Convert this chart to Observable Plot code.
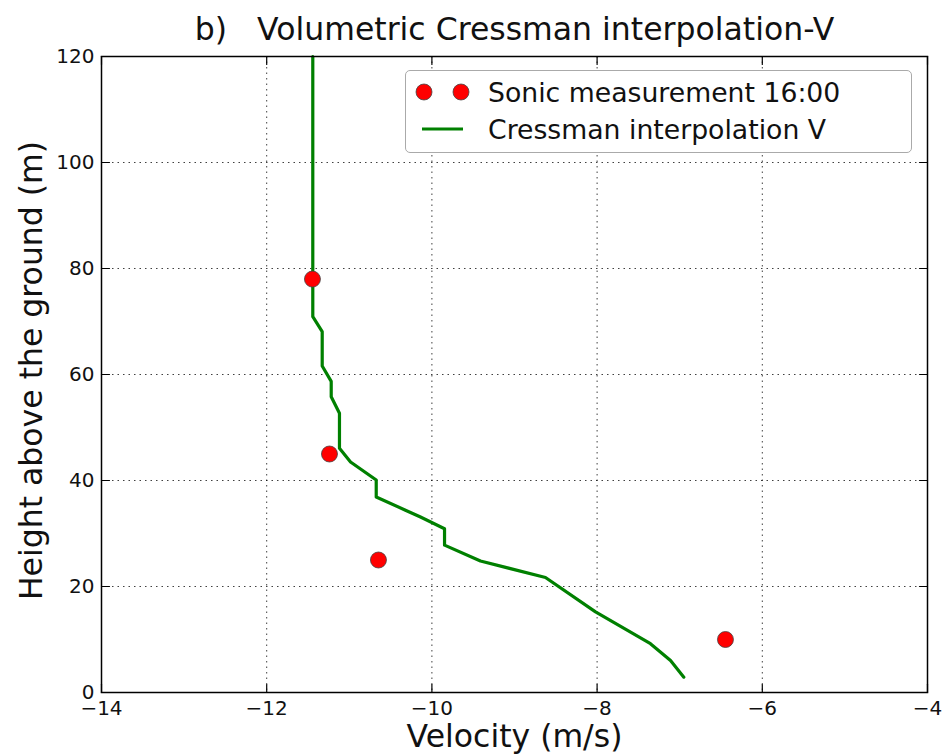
<!DOCTYPE html>
<html>
<head>
<meta charset="utf-8">
<script src="https://cdn.jsdelivr.net/npm/d3@7"></script>
<script src="https://cdn.jsdelivr.net/npm/@observablehq/plot@0.6"></script>
<style>
  body { margin: 0; background: #fff; font-family: "DejaVu Sans", sans-serif; }
  #wrap { position: relative; width: 942px; height: 756px; }
  #legend { position: absolute; left: 405px; top: 70px; width: 505px; height: 81px;
    border: 1.5px solid #aaa; border-radius: 5px; background: #fff; box-sizing: content-box; }
  .row { position: absolute; left: 0; height: 36px; display: flex; align-items: center; }
  .row span { position: absolute; left: 82px; font-size: 26.7px; color: #111; white-space: nowrap; }
</style>
</head>
<body>
<div id="wrap">
  <div id="chart"></div>
  <div id="legend">
    <div class="row" style="top:3px">
      <svg width="80" height="36"><circle cx="18" cy="18" r="8" fill="red" stroke="#444" stroke-width="0.8"/><circle cx="55" cy="18" r="8" fill="red" stroke="#444" stroke-width="0.8"/></svg>
      <span>Sonic measurement 16:00</span>
    </div>
    <div class="row" style="top:40px">
      <svg width="80" height="36"><line x1="16" x2="57" y1="18" y2="18" stroke="#008000" stroke-width="3"/></svg>
      <span>Cressman interpolation V</span>
    </div>
  </div>
</div>
<script>
// Sonic measurements
const sonicV = [-11.446, -11.24, -10.647, -6.446];
const sonicH = [78, 45, 25, 10];

// Cressman interpolated profile
const cressV = [-11.442, -11.442, -11.328, -11.328, -11.219, -11.219, -11.119, -11.119, -10.985, -10.674, -10.674, -10.32, -10.138, -9.847, -9.847, -9.412, -8.625, -8.019, -7.354, -7.111, -6.95];
const cressH = [120, 70.9, 68.1, 61.6, 58.7, 55.8, 52.7, 46.1, 43.5, 40.1, 36.9, 34.4, 33.1, 30.9, 27.8, 24.8, 21.7, 15.2, 9.2, 6.05, 2.9];

const xTicks = [-14, -12, -10, -8, -6, -4];
const yTicks = [0, 20, 40, 60, 80, 100, 120];

const titleText = "b)   Volumetric Cressman interpolation-V";
const xLabel = "Velocity (m/s)";
const yLabel = "Height above the ground (m)";

const sonic = sonicV.map((v, i) => ({v, h: sonicH[i]}));
const cress = cressV.map((v, i) => ({v, h: cressH[i]}));

const fmt = d => d < 0 ? "\u2212" + Math.abs(d) : String(d);

const tickShape = { draw(context, l) { context.moveTo(0, 0); context.lineTo(0, -l); } };
const tickOpts = { length: 8, anchor: "start", shape: tickShape, stroke: "#000", strokeWidth: 1.2 };

const chart = Plot.plot({
  width: 942,
  height: 756,
  marginTop: 56,
  marginLeft: 101,
  marginRight: 15,
  marginBottom: 64,
  style: { fontFamily: "DejaVu Sans, sans-serif", background: "white", color: "#111" },
  x: { domain: [-14, -4] },
  y: { domain: [0, 120] },
  marks: [
    Plot.gridX(xTicks, { stroke: "#000", strokeOpacity: 0.75, strokeDasharray: "1.5,4" }),
    Plot.gridY(yTicks, { stroke: "#000", strokeOpacity: 0.75, strokeDasharray: "1.5,4" }),
    Plot.line(cress, { x: "v", y: "h", stroke: "#008000", strokeWidth: 3.2 }),
    Plot.dot(sonic, { x: "v", y: "h", r: 8, fill: "red", stroke: "#444", strokeWidth: 0.8 }),
    Plot.frame({ stroke: "#000", strokeWidth: 1.5 }),
    Plot.vectorX(xTicks, { x: d => d, frameAnchor: "bottom", rotate: 0, ...tickOpts }),
    Plot.vectorX(xTicks, { x: d => d, frameAnchor: "top", rotate: 180, ...tickOpts }),
    Plot.vectorY(yTicks, { y: d => d, frameAnchor: "left", rotate: 90, ...tickOpts }),
    Plot.vectorY(yTicks, { y: d => d, frameAnchor: "right", rotate: -90, ...tickOpts }),
    Plot.axisX(xTicks, { anchor: "bottom", tickSize: 0, tickPadding: 8, tickFormat: fmt, fontSize: 20, label: null }),
    Plot.axisY(yTicks, { anchor: "left", tickSize: 0, tickPadding: 7, tickFormat: fmt, fontSize: 20, label: null }),
    Plot.text([titleText], { frameAnchor: "top", dy: -39, fontSize: 31.5, text: d => d, fill: "#111" }),
    Plot.text([xLabel], { frameAnchor: "bottom", dy: 54, fontSize: 31.5, text: d => d, fill: "#111" }),
    Plot.text([yLabel], { frameAnchor: "left", textAnchor: "middle", dx: -70, dy: -4, rotate: -90, fontSize: 31.5, text: d => d, fill: "#111" })
  ]
});
document.getElementById("chart").appendChild(chart);
</script>
</body>
</html>
